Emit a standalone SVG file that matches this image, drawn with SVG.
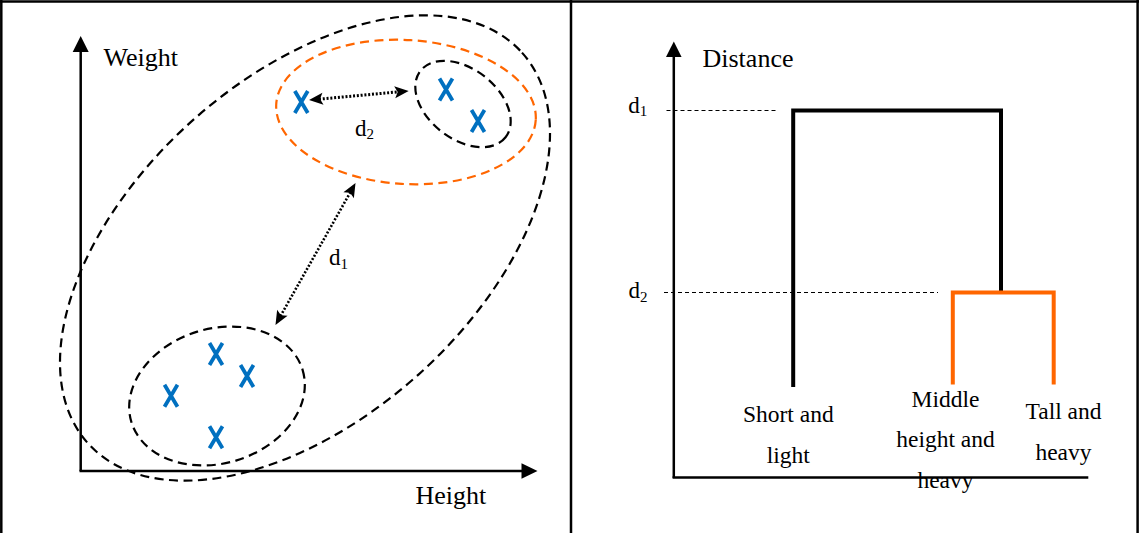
<svg xmlns="http://www.w3.org/2000/svg" width="1139" height="533" viewBox="0 0 1139 533">
<style>
.frame{fill:none;stroke:#000;stroke-width:2.5}
.axis{fill:none;stroke:#000;stroke-width:2.5}
.dash{fill:none;stroke:#000;stroke-width:2.2;stroke-dasharray:9 5.5}
.odash{fill:none;stroke:#FF6600;stroke-width:2.2;stroke-dasharray:9 5.5}
.dot{fill:none;stroke:#000;stroke-dasharray:2 1.8}
.thin{fill:none;stroke:#000;stroke-width:1;stroke-dasharray:4 3}
.den{fill:none;stroke:#000;stroke-width:4;stroke-linejoin:miter}
.oden{fill:none;stroke:#FF6600;stroke-width:4;stroke-linejoin:miter}
.xm{fill:none;stroke:#0070C0;stroke-width:3.8}
text{font-family:"Liberation Serif","Times New Roman",serif;fill:#000}
.ax{font-size:26px}
.lf{font-size:23.5px;text-anchor:middle}
.d{font-size:23px}
.sub{font-size:15px}
</style>
<defs>
<marker id="stealth" markerUnits="userSpaceOnUse" markerWidth="30" markerHeight="30" refX="0" refY="0" viewBox="-15 -15 30 30" orient="auto-start-reverse" overflow="visible">
<path d="M10,0 L-4,-6 L-1,0 L-4,6 Z" fill="#000"/>
</marker>
<path id="xmark" class="xm" d="M-6.5,-11 L6.5,11 M6.5,-11 L-6.5,11"/>
</defs>

<g id="frame">
<line class="frame" x1="1.3" y1="0" x2="1.3" y2="533"/>
<line class="frame" x1="0" y1="1.5" x2="1139" y2="1.5"/>
<line class="frame" x1="571" y1="0" x2="571" y2="533"/>
<line class="frame" x1="1137.6" y1="0" x2="1137.6" y2="533"/>
</g>

<g id="left-axes">
<line class="axis" x1="80.7" y1="471" x2="80.7" y2="50"/>
<polygon points="80.7,36 72.7,52 88.7,52" fill="#000"/>
<line class="axis" x1="79.5" y1="471" x2="523" y2="471"/>
<polygon points="537.5,471 521.5,463.3 521.5,478.7" fill="#000"/>
<text class="ax" x="103.5" y="65.5">Weight</text>
<text class="ax" x="415.5" y="504">Height</text>
</g>

<g id="clusters">
<ellipse id="cluster-all" class="dash" cx="305" cy="248" rx="292" ry="170" transform="rotate(-42 305 248)"/>
<ellipse id="cluster-orange" class="odash" cx="406" cy="112" rx="130" ry="72" transform="rotate(3.5 406 112)"/>
<ellipse id="cluster-top" class="dash" cx="463" cy="104" rx="54" ry="35" transform="rotate(38 463 104)"/>
<ellipse id="cluster-bottom" class="dash" cx="217" cy="396" rx="89.5" ry="67.3" transform="rotate(-17 217 396)"/>
</g>

<g id="points">
<use href="#xmark" x="301.3" y="102"/>
<use href="#xmark" x="446" y="89.5"/>
<use href="#xmark" x="478" y="121"/>
<use href="#xmark" x="216" y="354"/>
<use href="#xmark" x="247" y="376"/>
<use href="#xmark" x="171" y="395.7"/>
<use href="#xmark" x="216" y="437.3"/>
</g>

<g id="connectors">
<line class="dot" style="stroke-width:3" x1="319" y1="99.2" x2="398.7" y2="91.8" marker-start="url(#stealth)" marker-end="url(#stealth)"/>
<line class="dot" style="stroke-width:2.6" x1="280.4" y1="316.2" x2="350.6" y2="191.8" marker-start="url(#stealth)" marker-end="url(#stealth)"/>
</g>

<g id="left-labels">
<text class="d" x="355" y="136">d<tspan class="sub" dy="3.3">2</tspan></text>
<text class="d" x="329" y="265.3">d<tspan class="sub" dy="3.5">1</tspan></text>
</g>

<g id="right-axes">
<line class="axis" x1="673.8" y1="478" x2="673.8" y2="54"/>
<polygon points="673.8,41.5 666,57 681.6,57" fill="#000"/>
<line class="axis" x1="672.6" y1="477.5" x2="1088.3" y2="477.5"/>
<text class="ax" x="702.5" y="67.3">Distance</text>
<line class="thin" x1="666.5" y1="110.5" x2="776" y2="110.5"/>
<line class="thin" x1="664" y1="292.5" x2="938" y2="292.5"/>
<text class="d" x="628.3" y="112.7">d<tspan class="sub" dy="3">1</tspan></text>
<text class="d" x="628.5" y="298.3">d<tspan class="sub" dy="3.3">2</tspan></text>
</g>

<g id="dendrogram">
<polyline class="den" points="793.2,387 793.2,110.5 1001,110.5 1001,292.5"/>
<polyline class="oden" points="952.8,384.4 952.8,292.5 1053.7,292.5 1053.7,384.4"/>
</g>

<g id="leaf-short">
<text class="lf" x="788.3" y="421.7">Short and</text>
<text class="lf" x="788.3" y="462.7">light</text>
</g>
<g id="leaf-middle">
<text class="lf" x="945.5" y="406.7">Middle</text>
<text class="lf" x="945.5" y="447.3">height and</text>
<text class="lf" x="945.5" y="488.3">heavy</text>
</g>
<g id="leaf-tall">
<text class="lf" x="1063.5" y="419.3">Tall and</text>
<text class="lf" x="1063.5" y="460">heavy</text>
</g>
</svg>
